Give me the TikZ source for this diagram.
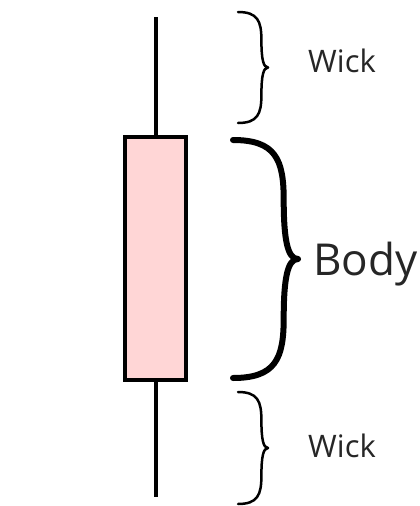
\documentclass[tikz,border=0pt]{standalone}
\usepackage{fontspec}
\setmainfont{Open Sans}
\definecolor{bodypink}{RGB}{255,214,214}
% curly brace: x, top y, bottom y, width, line width
\newcommand{\curlybrace}[5]{%
  \draw[line width=#5, line cap=round, line join=round]
    (#1,#2) .. controls ({#1+0.65*#4},#2) and ({#1+0.78*#4},{#2+0.08*(#3-#2)}) .. ({#1+0.78*#4},{#2+0.25*(#3-#2)})
    .. controls ({#1+0.78*#4},{#2+0.42*(#3-#2)}) and ({#1+0.84*#4},{#2+0.5*(#3-#2)}) .. ({#1+#4},{#2+0.5*(#3-#2)})
    .. controls ({#1+0.84*#4},{#2+0.5*(#3-#2)}) and ({#1+0.78*#4},{#2+0.58*(#3-#2)}) .. ({#1+0.78*#4},{#2+0.75*(#3-#2)})
    .. controls ({#1+0.78*#4},{#2+0.92*(#3-#2)}) and ({#1+0.65*#4},#3) .. (#1,#3);}
\tikzset{
  candle/.style={draw, line width=4pt, fill=bodypink, inner sep=0pt, outer sep=0pt,
    minimum width=61pt, minimum height=243pt},
  wickline/.style={line width=4pt},
  wicklabel/.style={anchor=base west, inner sep=0pt, font=\fontsize{31}{31}\selectfont, text=black!85},
  bodylabel/.style={anchor=base west, inner sep=0pt, font=\fontsize{44}{44}\selectfont, text=black!85}
}
\begin{document}
\begin{tikzpicture}[x=1pt, y=-1pt]
    \useasboundingbox (0,0) rectangle (420,506);

    % candle
    \node[candle] (body) at (155.5,258.5) {};
    \coordinate (hightip) at (155.5,17);
    \coordinate (lowtip) at (155.5,497);
    \draw[wickline] (hightip) -- (body.north);
    \draw[wickline] (body.south) -- (lowtip);

    % braces
    \curlybrace{238}{12}{123}{30}{2.5pt}
    \curlybrace{233}{140}{378}{65}{6pt}
    \curlybrace{238}{392}{504}{30}{2.5pt}

    % labels
    \node[wicklabel] (upperwick) at (308,72) {Wick};
    \node[bodylabel] (bodytext) at (313,275) {Body};
    \node[wicklabel] (lowerwick) at (308,457) {Wick};
\end{tikzpicture}
\end{document}
